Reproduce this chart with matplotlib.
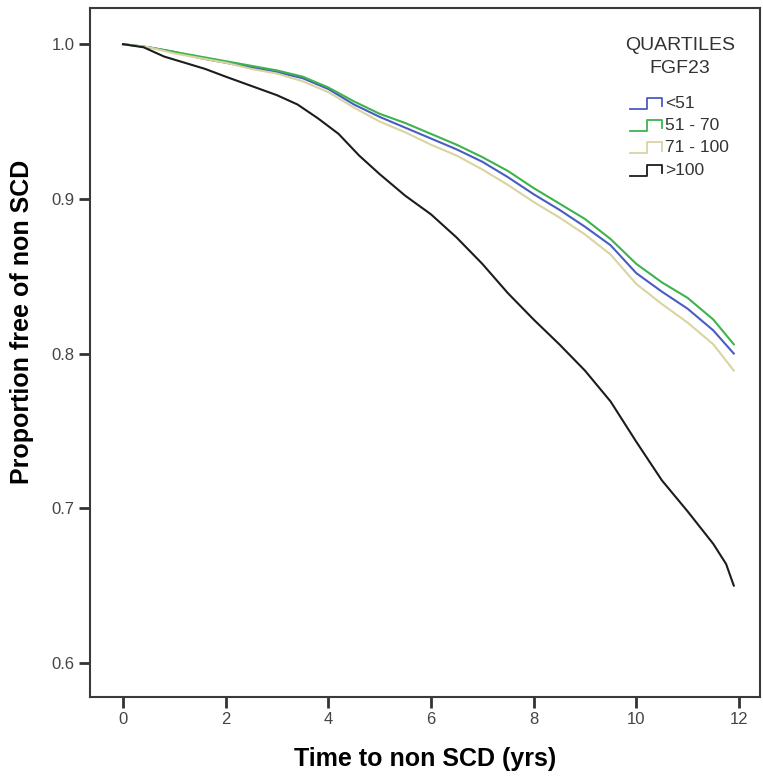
import matplotlib
matplotlib.use("Agg")
import matplotlib.pyplot as plt

plt.rcParams['font.family'] = ['Liberation Sans', 'DejaVu Sans']

# survival estimates
time_main = [0, 0.5, 1.0, 1.5, 2.0, 2.5, 3.0, 3.5, 4.0, 4.5, 5.0, 5.5, 6.0,
             6.5, 7.0, 7.5, 8.0, 8.5, 9.0, 9.5, 10.0, 10.5, 11.0, 11.5, 11.9]
surv_lt51 = [1.0, 0.998, 0.995, 0.991, 0.988, 0.985, 0.982, 0.978, 0.971, 0.961,
             0.953, 0.946, 0.939, 0.932, 0.924, 0.914, 0.903, 0.893, 0.882, 0.870,
             0.852, 0.840, 0.829, 0.815, 0.800]
surv_51_70 = [1.0, 0.998, 0.995, 0.992, 0.989, 0.986, 0.983, 0.979, 0.972, 0.963,
              0.955, 0.949, 0.942, 0.935, 0.927, 0.918, 0.907, 0.897, 0.887, 0.874,
              0.858, 0.846, 0.836, 0.822, 0.806]
surv_71_100 = [1.0, 0.998, 0.994, 0.991, 0.988, 0.984, 0.981, 0.976, 0.969, 0.959,
               0.950, 0.943, 0.935, 0.928, 0.919, 0.909, 0.898, 0.888, 0.877, 0.864,
               0.845, 0.832, 0.820, 0.806, 0.789]
time_gt100 = [0, 0.4, 0.8, 1.2, 1.6, 2.0, 2.5, 3.0, 3.4, 3.8, 4.2, 4.6, 5.0, 5.5,
              6.0, 6.5, 7.0, 7.5, 8.0, 8.5, 9.0, 9.5, 10.0, 10.5, 11.0, 11.5,
              11.75, 11.9]
surv_gt100 = [1.0, 0.998, 0.992, 0.988, 0.984, 0.979, 0.973, 0.967, 0.961, 0.952,
              0.942, 0.928, 0.916, 0.902, 0.890, 0.875, 0.858, 0.839, 0.822, 0.806,
              0.789, 0.769, 0.743, 0.718, 0.698, 0.677, 0.664, 0.650]

labels = ['<51', '51 - 70', '71 - 100', '>100']
colors = ['#4a5cc4', '#3cb44b', '#d9d4a2', '#1c1c1c']

fig = plt.figure(figsize=(7.63, 7.81), dpi=100)
ax = fig.add_axes([0.118, 0.1076, 0.878, 0.882])

series = [(time_main, surv_lt51), (time_main, surv_51_70),
          (time_main, surv_71_100), (time_gt100, surv_gt100)]
for (t, s), lab, c in zip(series, labels, colors):
    ax.plot(t, s, color=c, lw=1.5, label=lab)

ax.set_xlim(-0.643, 12.41)
ax.set_ylim(0.578, 1.0233)
ax.set_xticks([0, 2, 4, 6, 8, 10, 12])
ax.set_yticks([0.6, 0.7, 0.8, 0.9, 1.0])
ax.set_yticklabels(['0.6', '0.7', '0.8', '0.9', '1.0'])
ax.tick_params(direction='out', length=8, width=2, color='#333333',
               labelsize=12, labelcolor='#444444', pad=3)
for sp in ax.spines.values():
    sp.set_linewidth(1.5)
    sp.set_color('#3a3a3a')

ax.set_xlabel('Time to non SCD (yrs)', fontsize=18, fontweight='bold',
              labelpad=14)
ax.set_ylabel('Proportion free of non SCD', fontsize=18, fontweight='bold')
ax.yaxis.set_label_coords(-0.083, 0.544)

# legend drawn by hand, SPSS style with step-shaped keys
ax.text(0.8806, 0.9463, 'QUARTILES', transform=ax.transAxes, ha='center',
        va='center', fontsize=14, color='#333333')
ax.text(0.8806, 0.9129, 'FGF23', transform=ax.transAxes, ha='center',
        va='center', fontsize=14, color='#333333')
y0 = 0.8621
for i, (lab, c) in enumerate(zip(labels, colors)):
    yy = y0 - i * 0.0324
    kx = [0.806, 0.831, 0.831, 0.8537, 0.8537]
    ky = [yy - 0.008, yy - 0.008, yy + 0.008, yy + 0.008, yy - 0.004]
    ax.plot(kx, ky, color=c, lw=1.3, transform=ax.transAxes, clip_on=False)
    ax.text(0.859, yy, lab, transform=ax.transAxes, ha='left', va='center',
            fontsize=12.5, color='#333333')

fig.savefig('out.png', dpi=100)
